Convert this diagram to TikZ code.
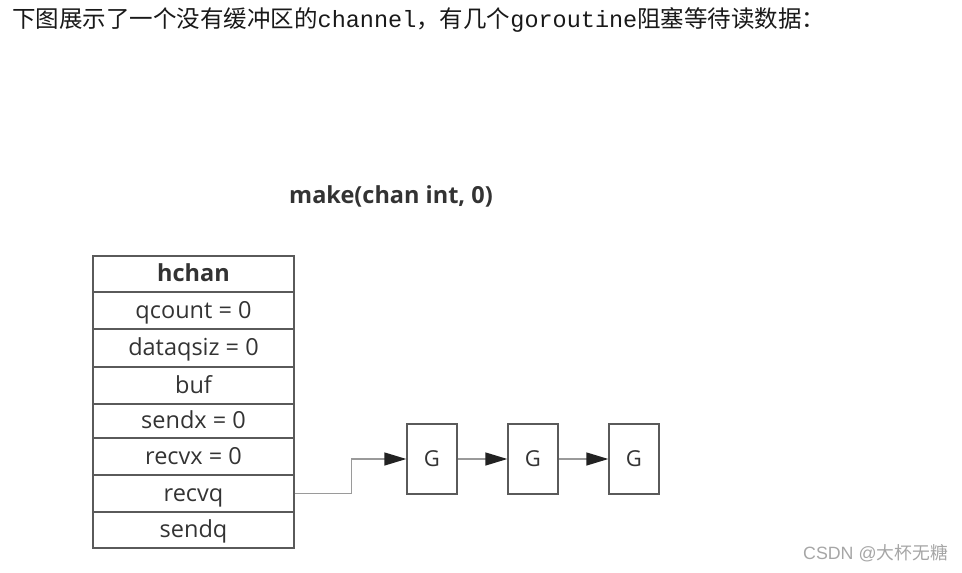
\documentclass[tikz,border=0pt]{standalone}
\usepackage{fontspec}
\setmainfont{Open Sans}
\newfontfamily\cjk{Noto Sans CJK SC}
\newfontfamily\monof{Liberation Mono}
\usetikzlibrary{arrows.meta}
\definecolor{boxline}{HTML}{5A5A5A}
\definecolor{txt}{HTML}{333333}
\definecolor{conn}{HTML}{9A9A9A}
\definecolor{tipc}{HTML}{222222}
\begin{document}
\begin{tikzpicture}[x=1pt,y=-1pt,
  row/.style={draw=boxline,line width=1.4pt,minimum width=201pt,inner sep=0pt,text=txt,text height=20pt,text depth=5pt,font=\fontsize{23.5}{26}\selectfont},
  gbox/.style={draw=boxline,line width=1.4pt,minimum width=50pt,minimum height=70pt,inner sep=0pt,text=txt,font=\fontsize{22}{24}\selectfont},
  link/.style={draw=conn,line width=1.4pt,-{Triangle[length=22pt,width=13pt,color=tipc]}}]
\useasboundingbox (0,0) rectangle (962,573);
\node[anchor=west,inner sep=0pt,text=black!90] (head) at (12,20) {\fontsize{23.5}{26}\selectfont\cjk 下图展示了一个没有缓冲区的{\monof channel}，有几个{\monof goroutine}阻塞等待读数据：};
\node[inner sep=0pt,text=txt,font=\fontsize{23.5}{26}\selectfont\bfseries] (title) at (391,196) {make(chan int, 0)};
\node[row,minimum height=36pt,font=\fontsize{23.5}{26}\selectfont\bfseries] (r1) at (193.5,274) {hchan};
\node[row,minimum height=37pt] (r2) at (193.5,310.5) {qcount = 0};
\node[row,minimum height=38pt] (r3) at (193.5,348) {dataqsiz = 0};
\node[row,minimum height=37pt] (r4) at (193.5,385.5) {buf};
\node[row,minimum height=34pt] (r5) at (193.5,421) {sendx = 0};
\node[row,minimum height=37pt] (r6) at (193.5,456.5) {recvx = 0};
\node[row,minimum height=37pt] (r7) at (193.5,493.5) {recvq};
\node[row,minimum height=36pt] (r8) at (193.5,530) {sendq};
\node[gbox] (g1) at (432,459) {G};
\node[gbox] (g2) at (533,459) {G};
\node[gbox] (g3) at (634,459) {G};
\draw[link] (r7.east) -- ++(57,0) |- (g1.west);
\draw[link] (g1.east) -- (g2.west);
\draw[link] (g2.east) -- (g3.west);
\node[anchor=east,inner sep=0pt,text=black!35] (wm) at (948,553) {\fontsize{17.8}{20}\selectfont{\fontspec{Liberation Sans}CSDN @}{\cjk 大杯无糖}};
\end{tikzpicture}
\end{document}
